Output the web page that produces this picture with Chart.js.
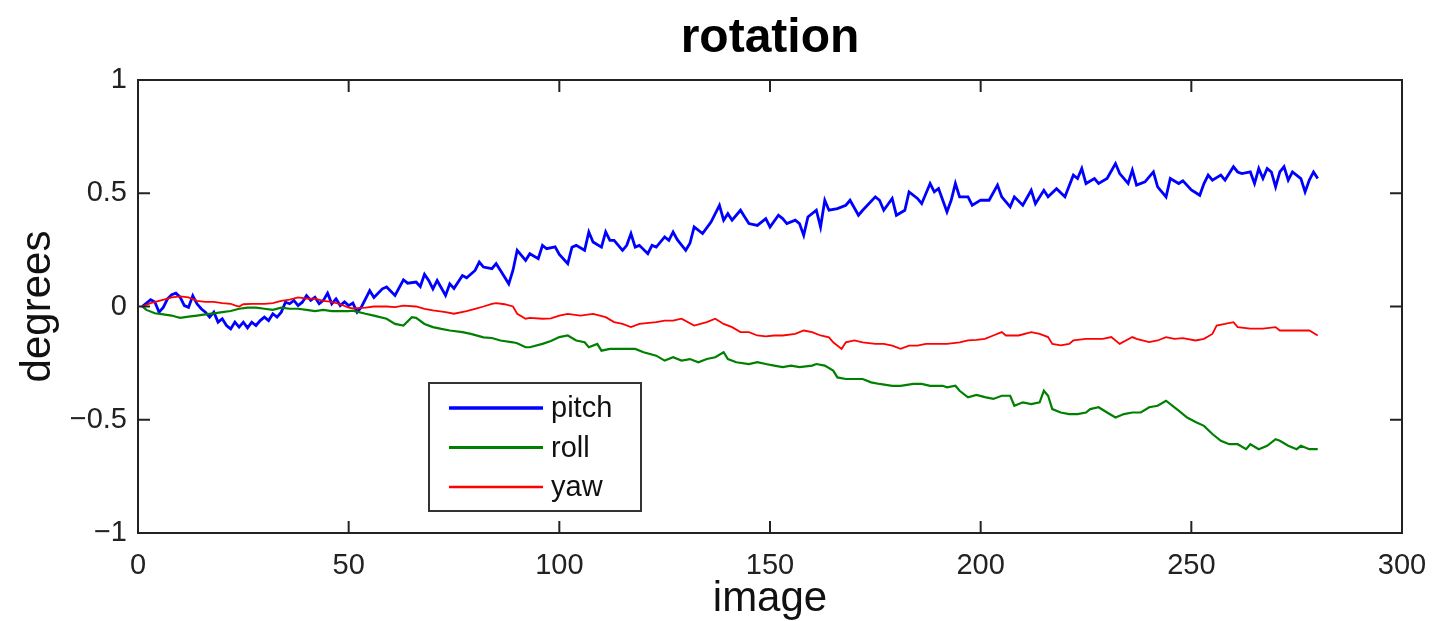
<!DOCTYPE html>
<html>
<head>
<meta charset="utf-8">
<script src="https://cdn.jsdelivr.net/npm/chart.js@4.4.1/dist/chart.umd.min.js"></script>
<style>
  html, body { margin: 0; padding: 0; background: #fff; }
  #wrap { width: 1436px; height: 621px; }
</style>
</head>
<body>
<div id="wrap"><canvas id="rotChart" width="1436" height="621"></canvas></div>
<script>
// ══════════════════════════════
//  DATA
// ══════════════════════════════
const seriesNames = ['pitch', 'roll', 'yaw'];

const pitchImage = [1,3,4,5,6,7,8,9,10,11,12,13,14,15,16,17,18,19,20,21,22,23,24,25,26,27,28,29,30,31,32,33,34,35,36,37,38,39,40,41,42,43,44,45,46,47,48,49,50,51,52,53,55,56,58,59,61,63,64,66,67,68,69,70,71,73,74,75,77,78,80,81,82,84,85,86,88,89,90,92,93,95,96,97,99,100,102,103,104,106,107,108,110,111,112,113,115,116,117,118,119,121,122,123,125,126,127,128,130,131,132,134,136,138,139,140,141,143,144,145,147,149,150,152,153,154,156,157,158,159,161,162,163,164,166,168,169,171,172,175,176,177,179,180,182,183,185,186,188,189,190,192,193,194,195,197,198,200,202,204,205,207,208,210,212,213,215,216,218,220,222,223,224,225,227,228,230,232,233,235,236,237,239,241,242,244,245,247,248,250,252,253,254,255,257,258,260,261,262,264,265,266,267,268,269,270,271,272,273,274,276,277,278,279,280];
const pitchDeg = [0.0,0.03,0.02,-0.025,-0.004,0.034,0.052,0.059,0.041,0.004,-0.004,0.048,0.012,-0.01,-0.025,-0.047,-0.025,-0.069,-0.054,-0.084,-0.099,-0.069,-0.091,-0.069,-0.094,-0.069,-0.084,-0.062,-0.047,-0.062,-0.032,-0.047,-0.025,0.019,0.012,0.027,0.004,0.019,0.048,0.027,0.041,0.012,0.027,0.059,0.012,0.034,0.004,0.02,0.004,0.015,-0.025,-0.003,0.07,0.04,0.078,0.086,0.049,0.118,0.103,0.108,0.088,0.142,0.115,0.078,0.115,0.049,0.1,0.08,0.137,0.127,0.159,0.196,0.174,0.167,0.189,0.16,0.1,0.16,0.248,0.204,0.233,0.211,0.27,0.255,0.263,0.23,0.189,0.262,0.27,0.248,0.329,0.285,0.262,0.329,0.292,0.292,0.248,0.27,0.322,0.262,0.27,0.233,0.27,0.262,0.307,0.292,0.329,0.295,0.248,0.279,0.351,0.322,0.373,0.447,0.381,0.41,0.381,0.425,0.395,0.366,0.358,0.388,0.351,0.403,0.388,0.366,0.381,0.366,0.314,0.395,0.425,0.351,0.469,0.425,0.432,0.447,0.469,0.403,0.425,0.484,0.469,0.425,0.477,0.403,0.425,0.506,0.477,0.454,0.543,0.506,0.521,0.418,0.469,0.543,0.484,0.484,0.447,0.47,0.469,0.536,0.484,0.44,0.484,0.447,0.513,0.454,0.513,0.484,0.52,0.484,0.58,0.565,0.609,0.543,0.565,0.543,0.565,0.631,0.587,0.543,0.602,0.536,0.55,0.594,0.528,0.484,0.565,0.543,0.555,0.515,0.491,0.543,0.58,0.558,0.58,0.558,0.617,0.594,0.587,0.594,0.543,0.609,0.565,0.609,0.594,0.528,0.594,0.617,0.558,0.594,0.565,0.506,0.558,0.594,0.565];

const rollImage = [1,2,4,6,8,9,10,12,14,16,18,20,22,24,26,28,30,32,34,36,38,40,42,44,46,48,50,51,54,56,59,61,63,65,66,68,70,72,74,77,79,82,84,86,89,90,92,93,96,98,100,102,104,106,107,109,110,112,115,118,120,123,125,127,129,131,133,135,137,139,140,142,145,147,149,151,153,155,157,160,161,163,165,166,168,170,172,174,176,179,181,184,186,188,191,192,194,195,197,199,201,203,205,207,208,210,212,214,215,216,217,219,221,223,225,226,228,230,232,234,236,238,240,242,244,246,247,249,251,253,255,257,259,261,263,264,266,268,270,271,273,275,276,278,280];
const rollDeg = [0,-0.015,-0.03,-0.035,-0.04,-0.045,-0.05,-0.045,-0.04,-0.035,-0.03,-0.025,-0.02,-0.01,-0.005,-0.005,-0.01,-0.015,-0.005,-0.01,-0.01,-0.015,-0.02,-0.015,-0.02,-0.02,-0.02,-0.018,-0.032,-0.04,-0.054,-0.077,-0.084,-0.047,-0.05,-0.077,-0.091,-0.099,-0.106,-0.113,-0.121,-0.136,-0.139,-0.15,-0.158,-0.162,-0.18,-0.18,-0.165,-0.152,-0.135,-0.128,-0.15,-0.158,-0.18,-0.165,-0.195,-0.187,-0.187,-0.187,-0.202,-0.217,-0.239,-0.224,-0.239,-0.232,-0.246,-0.232,-0.224,-0.202,-0.232,-0.246,-0.254,-0.246,-0.254,-0.261,-0.268,-0.261,-0.268,-0.261,-0.254,-0.261,-0.283,-0.313,-0.32,-0.32,-0.32,-0.335,-0.342,-0.35,-0.35,-0.342,-0.342,-0.35,-0.35,-0.357,-0.35,-0.372,-0.401,-0.39,-0.4,-0.408,-0.394,-0.394,-0.438,-0.423,-0.431,-0.423,-0.372,-0.394,-0.453,-0.468,-0.475,-0.475,-0.468,-0.453,-0.445,-0.468,-0.49,-0.475,-0.468,-0.468,-0.445,-0.438,-0.416,-0.445,-0.46,-0.49,-0.51,-0.527,-0.563,-0.593,-0.608,-0.608,-0.63,-0.608,-0.63,-0.615,-0.586,-0.593,-0.615,-0.63,-0.615,-0.63,-0.63];

const yawImage = [1,3,5,7,8,10,12,14,16,18,20,22,23,24,25,27,30,32,34,36,38,40,42,44,46,48,50,51,54,56,59,61,63,66,68,70,73,75,78,80,82,84,85,87,89,90,92,93,96,98,100,102,105,108,111,113,115,117,119,123,125,127,129,132,135,137,139,141,143,145,147,149,151,153,156,158,160,162,164,165,167,168,170,172,175,177,179,181,183,185,187,190,192,195,197,199,201,203,205,206,209,212,214,216,217,219,221,222,225,227,229,231,233,236,237,240,242,244,246,248,251,253,255,256,258,260,261,264,267,270,271,274,276,278,280];
const yawDeg = [0,0.015,0.025,0.035,0.04,0.045,0.04,0.025,0.02,0.02,0.015,0.012,0.005,0.0,0.01,0.012,0.012,0.015,0.025,0.03,0.04,0.035,0.035,0.025,0.02,0.01,-0.005,-0.008,-0.005,0.0,0.0,-0.003,0.004,0.0,-0.01,-0.017,-0.025,-0.032,-0.02,-0.01,0.0,0.012,0.015,0.01,0.0,-0.032,-0.054,-0.05,-0.054,-0.052,-0.04,-0.033,-0.04,-0.033,-0.047,-0.069,-0.077,-0.091,-0.077,-0.069,-0.062,-0.062,-0.054,-0.084,-0.069,-0.054,-0.077,-0.091,-0.113,-0.113,-0.128,-0.132,-0.128,-0.128,-0.121,-0.106,-0.113,-0.128,-0.136,-0.158,-0.187,-0.158,-0.15,-0.158,-0.165,-0.165,-0.173,-0.187,-0.173,-0.173,-0.165,-0.165,-0.165,-0.158,-0.15,-0.147,-0.143,-0.128,-0.113,-0.128,-0.128,-0.113,-0.121,-0.135,-0.165,-0.172,-0.165,-0.15,-0.143,-0.143,-0.143,-0.135,-0.165,-0.135,-0.143,-0.157,-0.15,-0.135,-0.143,-0.14,-0.15,-0.143,-0.121,-0.084,-0.077,-0.069,-0.091,-0.098,-0.098,-0.091,-0.106,-0.106,-0.106,-0.106,-0.128];

const xTickValues = [0, 50, 100, 150, 200, 250, 300];
const xTickLabels = ['0', '50', '100', '150', '200', '250', '300'];
const yTickValues = [-1, -0.5, 0, 0.5, 1];
const yTickLabels = ['\u22121', '\u22120.5', '0', '0.5', '1'];

const FONT = "'Liberation Sans', Arial, Helvetica, sans-serif";

function toPoints(xs, ys) {
  return xs.map((x, i) => ({ x: x, y: ys[i] }));
}


// ══════════════════════════════
//  PLUGINS (title, box + inward ticks, legend)
// ══════════════════════════════
const titlePlugin = {
  id: 'figTitle',
  afterDraw(chart) {
    const ctx = chart.ctx;
    const area = chart.chartArea;
    ctx.save();
    ctx.font = 'bold 48px ' + FONT;
    ctx.fillStyle = '#000';
    ctx.textAlign = 'center';
    ctx.textBaseline = 'alphabetic';
    ctx.fillText('rotation', (area.left + area.right) / 2, 52);
    ctx.restore();
  }
};

const boxPlugin = {
  id: 'matlabBox',
  afterDatasetsDraw(chart) {
    const ctx = chart.ctx;
    const a = chart.chartArea;
    const xs = chart.scales.x;
    const ys = chart.scales.y;
    const tick = 12;
    ctx.save();
    ctx.strokeStyle = '#222';
    ctx.lineWidth = 2;
    ctx.strokeRect(a.left, a.top, a.right - a.left, a.bottom - a.top);
    ctx.beginPath();
    xTickValues.forEach(v => {
      const px = xs.getPixelForValue(v);
      ctx.moveTo(px, a.bottom); ctx.lineTo(px, a.bottom - tick);
      ctx.moveTo(px, a.top); ctx.lineTo(px, a.top + tick);
    });
    yTickValues.forEach(v => {
      const py = ys.getPixelForValue(v);
      ctx.moveTo(a.left, py); ctx.lineTo(a.left + tick, py);
      ctx.moveTo(a.right, py); ctx.lineTo(a.right - tick, py);
    });
    ctx.stroke();
    ctx.restore();
  }
};

const legendPlugin = {
  id: 'insideLegend',
  afterDraw(chart) {
    const ctx = chart.ctx;
    const a = chart.chartArea;
    const bx = a.left + 291, by = a.top + 303, bw = 212, bh = 128;
    ctx.save();
    ctx.fillStyle = '#fff';
    ctx.fillRect(bx, by, bw, bh);
    ctx.strokeStyle = '#333';
    ctx.lineWidth = 2;
    ctx.strokeRect(bx, by, bw, bh);
    ctx.font = '29px ' + FONT;
    ctx.textAlign = 'left';
    ctx.textBaseline = 'middle';
    chart.data.datasets.forEach((ds, i) => {
      const ly = by + 25 + i * 39.5;
      ctx.beginPath();
      ctx.strokeStyle = ds.borderColor;
      ctx.lineWidth = ds.borderWidth + 0.6;
      ctx.moveTo(bx + 20, ly);
      ctx.lineTo(bx + 114, ly);
      ctx.stroke();
      ctx.fillStyle = '#111';
      ctx.fillText(ds.label, bx + 122, ly + 1);
    });
    ctx.restore();
  }
};


// ══════════════════════════════
//  CHART
// ══════════════════════════════
new Chart(document.getElementById('rotChart'), {
  type: 'line',
  plugins: [boxPlugin, legendPlugin, titlePlugin],
  data: {
    datasets: [
      {
        label: seriesNames[0],
        data: toPoints(pitchImage, pitchDeg),
        borderColor: '#0000ff',
        borderWidth: 2.8,
        pointRadius: 0,
        tension: 0,
        order: 2,
      },
      {
        label: seriesNames[1],
        data: toPoints(rollImage, rollDeg),
        borderColor: '#008000',
        borderWidth: 2.2,
        pointRadius: 0,
        tension: 0,
        order: 1,
      },
      {
        label: seriesNames[2],
        data: toPoints(yawImage, yawDeg),
        borderColor: '#ff0000',
        borderWidth: 1.8,
        pointRadius: 0,
        tension: 0,
        order: 0,
      },
    ],
  },
  options: {
    responsive: false,
    animation: false,
    devicePixelRatio: 1,
    layout: { padding: { top: 80, right: 34, left: 0, bottom: 0 } },
    plugins: {
      legend: { display: false },
      tooltip: { enabled: false },
      title: { display: false },
    },
    scales: {
      x: {
        type: 'linear',
        min: 0,
        max: 300,
        grid: { display: false, drawTicks: false },
        border: { display: false },
        afterBuildTicks: (axis) => { axis.ticks = xTickValues.map(v => ({ value: v })); },
        afterFit: (axis) => {
          axis.height = 88;
          axis.paddingLeft = 0;
          axis.paddingRight = 0;
        },
        ticks: {
          color: '#222',
          font: { family: FONT, size: 29 },
          padding: 16,
          maxRotation: 0,
          autoSkip: false,
          callback: (v) => xTickLabels[xTickValues.indexOf(v)],
        },
        title: {
          display: true,
          text: 'image',
          color: '#111',
          font: { family: FONT, size: 42, lineHeight: 1 },
          padding: { top: 0, bottom: 1 },
        },
      },
      y: {
        min: -1,
        max: 1,
        grid: { display: false, drawTicks: false },
        border: { display: false },
        afterBuildTicks: (axis) => { axis.ticks = yTickValues.map(v => ({ value: v })); },
        afterFit: (axis) => {
          axis.width = 138;
          axis.paddingTop = 0;
          axis.paddingBottom = 0;
        },
        ticks: {
          color: '#222',
          font: { family: FONT, size: 29 },
          padding: 11,
          autoSkip: false,
          callback: (v) => yTickLabels[yTickValues.indexOf(v)],
        },
        title: {
          display: true,
          text: 'degrees',
          color: '#111',
          font: { family: FONT, size: 42, lineHeight: 1 },
          padding: { top: 17, bottom: 0 },
        },
      },
    },
  },
});
</script>
</body>
</html>
